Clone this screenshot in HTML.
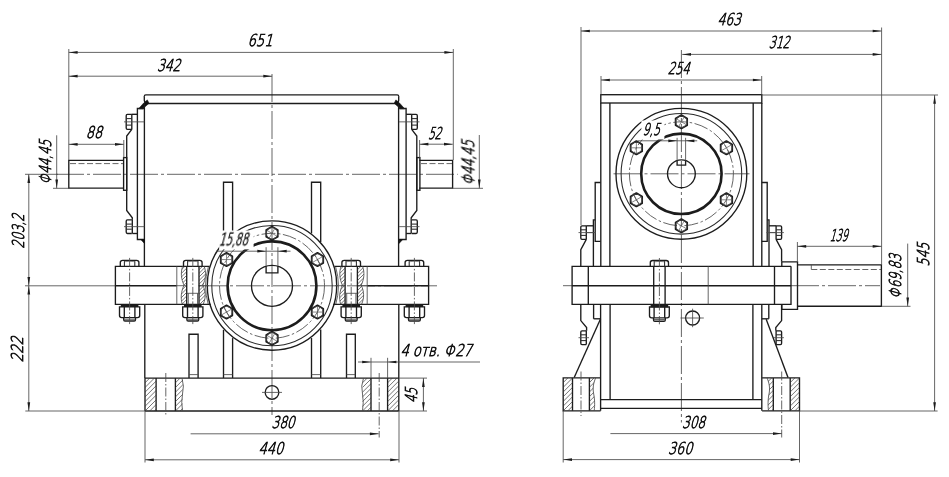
<!DOCTYPE html>
<html><head><meta charset="utf-8"><title>Gearbox drawing</title>
<style>
html,body{margin:0;padding:0;background:#fff}
svg{display:block}
.k{fill:none;stroke:#1c1c1c;stroke-width:1.35}
.kk{fill:none;stroke:#1c1c1c;stroke-width:2.6}
.kb{fill:none;stroke:#1c1c1c;stroke-width:1.7;stroke-linejoin:round}
.n{fill:none;stroke:#4a4a4a;stroke-width:0.85}
.m{fill:none;stroke:#2a2a2a;stroke-width:1.05}
.kw{fill:none;stroke:#1c1c1c;stroke-width:2.2}
.c2{fill:none;stroke:#4a4a4a;stroke-width:0.85;stroke-dasharray:9 2 1.5 2}
.t{fill:none;stroke:#555;stroke-width:0.7}
.c{fill:none;stroke:#4a4a4a;stroke-width:0.85;stroke-dasharray:28 3 3 3}
.cc{fill:none;stroke:#4a4a4a;stroke-width:0.85;stroke-dasharray:14 2.5 2.5 2.5}
.d{fill:none;stroke:#4a4a4a;stroke-width:0.85;stroke-dasharray:6 2.5}
.h{fill:none;stroke:#3a3a3a;stroke-width:0.7}
.a{fill:#1c1c1c;stroke:none}
.wm{fill:#fff;stroke:none}
.w{fill:#111;stroke:#111;stroke-width:0.6}
text{font-family:"DejaVu Sans","Liberation Sans",sans-serif;font-weight:200;font-size:16.4px;fill:#111;stroke:#111;stroke-width:0.8}
</style></head><body>
<svg width="949" height="477" viewBox="0 0 949 477">
<rect x="0" y="0" width="949" height="477" fill="#fff"/>
<path class="n" d="M25 174.3L58 174.3"/>
<path class="c" d="M56 174.3L457.7 174.3"/>
<path class="n" d="M25 285.8L116 285.8"/>
<path class="c" d="M199 285.8L437 285.8"/>
<path class="c" d="M272 74L272 415"/>
<path class="k" d="M145.6 94.8H397.4"/>
<path class="k" d="M144.3 96.2V100.4Q144.6 103.5 147.8 103.5H395.2Q398.4 103.5 398.7 100.4V96.2"/>
<path class="k" d="M144.3 96.4Q144.3 94.8 145.8 94.8M398.7 96.4Q398.7 94.8 397.2 94.8"/>
<path class="w" d="M143.5 103.2L147.3 99.9L149 103.3L142.7 108.8L138.6 108.8Z"/>
<path class="w" d="M399.7 103.2L395.9 99.9L394.2 103.3L400.5 108.8L404.6 108.8Z"/>
<path class="k" d="M144.4 103.5L144.4 266.3"/>
<path class="k" d="M398.6 103.5L398.6 266.3"/>
<path class="k" d="M144.8 304.3L144.8 378"/>
<path class="k" d="M398.8 304.3L398.8 378"/>
<path class="k" d="M144.4 108.5L137.4 108.5L137.4 239.5L144.4 239.5"/>
<path class="w" d="M140.8 239.5L144.4 239.5L144.4 243.4Z"/>
<path class="k" d="M137.4 114.3L131.8 114.3"/>
<path class="k" d="M131.8 129.4L126.7 136.1L126.7 210.4L132.3 217.8L132.3 219.8"/>
<path class="k" d="M132.3 233.5L137.4 233.5"/>
<path class="k" d="M131.8 114.3L131.8 129.4"/>
<path class="k" d="M132.3 219.6L132.3 233.5"/>
<path class="k" d="M131.8 114.3H127.4Q126.2 114.3 126.2 115.7V128Q126.2 129.4 127.4 129.4H131.8"/>
<path class="m" d="M126.2 118.6L131.8 118.6"/>
<path class="m" d="M126.2 125.1L131.8 125.1"/>
<path class="n" d="M124 121.85L144.4 121.85"/>
<path class="k" d="M131.8 219.8H127.4Q126.2 219.8 126.2 221.2V232.1Q126.2 233.5 127.4 233.5H131.8"/>
<path class="m" d="M126.2 224.1L131.8 224.1"/>
<path class="m" d="M126.2 229.2L131.8 229.2"/>
<path class="n" d="M124 226.65L144.4 226.65"/>
<rect class="k" x="123.6" y="157.6" width="3.1" height="32.7"/>
<path class="k" d="M399.1 108.5L406.1 108.5L406.1 239.5L399.1 239.5"/>
<path class="w" d="M402.7 239.5L399.1 239.5L399.1 243.4Z"/>
<path class="k" d="M406.1 114.3L411.7 114.3"/>
<path class="k" d="M411.7 129.4L416.8 136.1L416.8 210.4L411.2 217.8L411.2 219.8"/>
<path class="k" d="M411.2 233.5L406.1 233.5"/>
<path class="k" d="M411.7 114.3L411.7 129.4"/>
<path class="k" d="M411.2 219.6L411.2 233.5"/>
<path class="k" d="M411.7 114.3H416.1Q417.3 114.3 417.3 115.7V128Q417.3 129.4 416.1 129.4H411.7"/>
<path class="m" d="M417.3 118.6L411.7 118.6"/>
<path class="m" d="M417.3 125.1L411.7 125.1"/>
<path class="n" d="M419.5 121.85L399.1 121.85"/>
<path class="k" d="M411.7 219.8H416.1Q417.3 219.8 417.3 221.2V232.1Q417.3 233.5 416.1 233.5H411.7"/>
<path class="m" d="M417.3 224.1L411.7 224.1"/>
<path class="m" d="M417.3 229.2L411.7 229.2"/>
<path class="n" d="M419.5 226.65L399.1 226.65"/>
<rect class="k" x="416.8" y="157.6" width="3.1" height="32.7"/>
<path class="k" d="M123.6 160.4L68.8 160.4L68.8 188.1L123.6 188.1"/>
<path class="d" d="M70 163.6L123 163.6"/>
<path class="k" d="M419.4 160.4L452.6 160.4L452.6 188.1L419.4 188.1"/>
<path class="d" d="M421 163.6L452 163.6"/>
<path class="k" d="M223.5 241.78L223.5 182.2L232.6 182.2L232.6 233.48"/>
<path class="k" d="M223.5 329.82L223.5 378"/>
<path class="k" d="M232.6 338.12L232.6 378"/>
<path class="n" d="M223.5 374.6L232.6 374.6"/>
<path class="k" d="M311.5 233.55L311.5 182.2L320.7 182.2L320.7 242"/>
<path class="k" d="M311.5 338.05L311.5 378"/>
<path class="k" d="M320.7 329.6L320.7 378"/>
<path class="n" d="M311.5 374.6L320.7 374.6"/>
<path class="k" d="M189 378L189 334.2L198.1 334.2L198.1 378"/>
<path class="n" d="M189 374.6L198.1 374.6"/>
<path class="k" d="M346.5 378L346.5 334.2L355.3 334.2L355.3 378"/>
<path class="n" d="M346.5 374.6L355.3 374.6"/>
<circle class="k" cx="272" cy="285.5" r="64.7"/>
<circle class="m" cx="272" cy="285.6" r="60.2"/>
<path class="n" d="M208.33 266.94A66.4 66.4 0 0 0 208.33 304.66"/>
<path class="n" d="M335.67 304.66A66.4 66.4 0 0 0 335.67 266.94"/>
<circle class="cc" cx="272" cy="285.8" r="52.5"/>
<circle class="kk" cx="272" cy="285.8" r="44.4"/>
<circle class="k" cx="272" cy="285.8" r="20.5"/>
<path class="kb" d="M277.8 236.65L272 240L266.2 236.65L266.2 229.95L272 226.6L277.8 229.95Z"/>
<circle class="n" cx="272" cy="233.3" r="5.63"/>
<path class="t" d="M267.36 230.62L276.64 235.98"/>
<path class="t" d="M274.68 228.66L269.32 237.94"/>
<path class="kb" d="M226.53 266.25L220.73 262.9L220.73 256.2L226.53 252.85L232.34 256.2L232.34 262.9Z"/>
<circle class="n" cx="226.53" cy="259.55" r="5.63"/>
<path class="t" d="M226.53 254.19L226.53 264.91"/>
<path class="t" d="M231.89 259.55L221.17 259.55"/>
<path class="kb" d="M220.73 315.4L220.73 308.7L226.53 305.35L232.34 308.7L232.34 315.4L226.53 318.75Z"/>
<circle class="n" cx="226.53" cy="312.05" r="5.63"/>
<path class="t" d="M231.18 309.37L221.89 314.73"/>
<path class="t" d="M229.21 316.69L223.85 307.41"/>
<path class="kb" d="M266.2 334.95L272 331.6L277.8 334.95L277.8 341.65L272 345L266.2 341.65Z"/>
<circle class="n" cx="272" cy="338.3" r="5.63"/>
<path class="t" d="M276.64 340.98L267.36 335.62"/>
<path class="t" d="M269.32 342.94L274.68 333.66"/>
<path class="kb" d="M317.47 305.35L323.27 308.7L323.27 315.4L317.47 318.75L311.66 315.4L311.66 308.7Z"/>
<circle class="n" cx="317.47" cy="312.05" r="5.63"/>
<path class="t" d="M317.47 317.41L317.47 306.69"/>
<path class="t" d="M312.11 312.05L322.83 312.05"/>
<path class="kb" d="M323.27 256.2L323.27 262.9L317.47 266.25L311.66 262.9L311.66 256.2L317.47 252.85Z"/>
<circle class="n" cx="317.47" cy="259.55" r="5.63"/>
<path class="t" d="M312.82 262.23L322.11 256.87"/>
<path class="t" d="M314.79 254.91L320.15 264.19"/>
<path class="k" d="M266.1 266.3L266.1 272.9L277.9 272.9L277.9 266.3"/>
<path class="n" d="M266.1 247.2L266.1 266"/>
<path class="n" d="M277.9 247.2L277.9 266"/>
<path class="n" d="M216 251.2L290.5 251.2"/>
<path class="a" d="M266.1 251.2L257.3 249.85L257.3 252.55Z"/>
<path class="a" d="M277.9 251.2L286.7 249.85L286.7 252.55Z"/>
<path class="k" d="M209.6 266.3L115.4 266.3L115.4 304.3L210.8 304.3"/>
<path class="k" d="M115.4 285.7L176.8 285.7"/>
<path class="n" d="M176.8 266.3L176.8 304.3"/>
<path class="n" d="M176.8 285.7L186.7 285.7"/>
<path class="n" d="M198.5 285.7L209 285.7"/>
<path class="k" d="M120.3 266.2V262.6Q120.3 260.4 122.7 260.4H136.5Q138.9 260.4 138.9 262.6V266.2"/>
<path class="m" d="M124.4 261L124.4 266.2"/>
<path class="m" d="M134.8 261L134.8 266.2"/>
<path class="t" d="M124.4 261.7Q129.6 260.9 134.8 261.7"/>
<path class="kw" d="M120.8 305.9H138.4"/>
<path class="k" d="M119.5 306.8H139.7V315.6Q139.7 317.6 137.5 317.6H121.7Q119.5 317.6 119.5 315.6Z"/>
<path class="k" d="M124.3 306.8L124.3 317.6"/>
<path class="k" d="M134.9 306.8L134.9 317.6"/>
<path class="k" d="M123.7 317.6V319.8Q123.7 321 125 321H134.2Q135.5 321 135.5 319.8V317.6"/>
<path class="n" d="M124.1 319.3L135.1 319.3"/>
<path class="c2" d="M129.6 257.9L129.6 324.1"/>
<path class="k" d="M183.5 266.2V262.6Q183.5 260.4 185.9 260.4H199.7Q202.1 260.4 202.1 262.6V266.2"/>
<path class="m" d="M187.6 261L187.6 266.2"/>
<path class="m" d="M198 261L198 266.2"/>
<path class="t" d="M187.6 261.7Q192.8 260.9 198 261.7"/>
<path class="kw" d="M184 305.9H201.6"/>
<path class="k" d="M182.7 306.8H202.9V315.6Q202.9 317.6 200.7 317.6H184.9Q182.7 317.6 182.7 315.6Z"/>
<path class="k" d="M187.5 306.8L187.5 317.6"/>
<path class="k" d="M198.1 306.8L198.1 317.6"/>
<path class="k" d="M186.9 317.6V319.8Q186.9 321 188.2 321H197.4Q198.7 321 198.7 319.8V317.6"/>
<path class="n" d="M187.3 319.3L198.3 319.3"/>
<path class="c2" d="M192.8 257.9L192.8 324.1"/>
<path class="k" d="M186.7 266.2L186.7 304.2"/>
<path class="k" d="M199 266.2L199 304.2"/>
<path class="n" d="M186.7 293.3L199 293.3"/>
<path class="n" d="M188.3 293.3L188.3 304.2"/>
<path class="n" d="M197.5 293.3L197.5 304.2"/>
<path class="n" d="M182.6 266.2L181.97 268.57L181.56 270.95L181.39 273.32L181.45 275.7L181.74 278.07L182.26 280.45L183.02 282.82L184 285.2L183.01 287.57L182.24 289.95L181.68 292.32L181.35 294.7L181.23 297.07L181.34 299.45L181.66 301.82L182.2 304.2"/>
<path class="n" d="M204.2 266.2L204.88 268.57L205.31 270.95L205.5 273.32L205.45 275.7L205.15 278.07L204.61 280.45L203.83 282.82L202.8 285.2L203.81 287.57L204.55 289.95L205.01 292.32L205.2 294.7L205.11 297.07L204.75 299.45L204.11 301.82L203.2 304.2"/>
<clipPath id="b21a"><path d="M182.6 266.2L181.97 268.57L181.56 270.95L181.39 273.32L181.45 275.7L181.74 278.07L182.26 280.45L183.02 282.82L184 285.2L186.7 285.2L186.7 266.2Z"/></clipPath>
<path class="h" clip-path="url(#b21a)" d="M162.39 285.2L181.39 266.2M165.99 285.2L184.99 266.2M169.59 285.2L188.59 266.2M173.19 285.2L192.19 266.2M176.79 285.2L195.79 266.2M180.39 285.2L199.39 266.2M183.99 285.2L202.99 266.2M187.59 285.2L206.59 266.2M191.19 285.2L210.19 266.2M194.79 285.2L213.79 266.2M198.39 285.2L217.39 266.2M201.99 285.2L220.99 266.2M205.59 285.2L224.59 266.2"/>
<clipPath id="b21b"><path d="M184 285.2L183.01 287.57L182.24 289.95L181.68 292.32L181.35 294.7L181.23 297.07L181.34 299.45L181.66 301.82L182.2 304.2L186.7 304.2L186.7 285.2Z"/></clipPath>
<path class="h" clip-path="url(#b21b)" d="M164.03 304.2L183.03 285.2M167.63 304.2L186.63 285.2M171.23 304.2L190.23 285.2M174.83 304.2L193.83 285.2M178.43 304.2L197.43 285.2M182.03 304.2L201.03 285.2M185.63 304.2L204.63 285.2M189.23 304.2L208.23 285.2M192.83 304.2L211.83 285.2M196.43 304.2L215.43 285.2M200.03 304.2L219.03 285.2M203.63 304.2L222.63 285.2"/>
<clipPath id="b21c"><path d="M204.2 266.2L204.88 268.57L205.31 270.95L205.5 273.32L205.45 275.7L205.15 278.07L204.61 280.45L203.83 282.82L202.8 285.2L199 285.2L199 266.2Z"/></clipPath>
<path class="h" clip-path="url(#b21c)" d="M180 285.2L199 266.2M183.6 285.2L202.6 266.2M187.2 285.2L206.2 266.2M190.8 285.2L209.8 266.2M194.4 285.2L213.4 266.2M198 285.2L217 266.2M201.6 285.2L220.6 266.2M205.2 285.2L224.2 266.2M208.8 285.2L227.8 266.2M212.4 285.2L231.4 266.2M216 285.2L235 266.2M219.6 285.2L238.6 266.2M223.2 285.2L242.2 266.2"/>
<clipPath id="b21d"><path d="M202.8 285.2L203.81 287.57L204.55 289.95L205.01 292.32L205.2 294.7L205.11 297.07L204.75 299.45L204.11 301.82L203.2 304.2L199 304.2L199 285.2Z"/></clipPath>
<path class="h" clip-path="url(#b21d)" d="M181.8 304.2L200.8 285.2M185.4 304.2L204.4 285.2M189 304.2L208 285.2M192.6 304.2L211.6 285.2M196.2 304.2L215.2 285.2M199.8 304.2L218.8 285.2M203.4 304.2L222.4 285.2M207 304.2L226 285.2M210.6 304.2L229.6 285.2M214.2 304.2L233.2 285.2M217.8 304.2L236.8 285.2M221.4 304.2L240.4 285.2"/>
<path class="k" d="M334.4 266.3L428.6 266.3L428.6 304.3L333.2 304.3"/>
<path class="k" d="M428.6 285.7L367.2 285.7"/>
<path class="n" d="M367.2 266.3L367.2 304.3"/>
<path class="n" d="M367.2 285.7L357.3 285.7"/>
<path class="n" d="M345.5 285.7L335 285.7"/>
<path class="k" d="M405.1 266.2V262.6Q405.1 260.4 407.5 260.4H421.3Q423.7 260.4 423.7 262.6V266.2"/>
<path class="m" d="M409.2 261L409.2 266.2"/>
<path class="m" d="M419.6 261L419.6 266.2"/>
<path class="t" d="M409.2 261.7Q414.4 260.9 419.6 261.7"/>
<path class="kw" d="M405.6 305.9H423.2"/>
<path class="k" d="M404.3 306.8H424.5V315.6Q424.5 317.6 422.3 317.6H406.5Q404.3 317.6 404.3 315.6Z"/>
<path class="k" d="M409.1 306.8L409.1 317.6"/>
<path class="k" d="M419.7 306.8L419.7 317.6"/>
<path class="k" d="M408.5 317.6V319.8Q408.5 321 409.8 321H419Q420.3 321 420.3 319.8V317.6"/>
<path class="n" d="M408.9 319.3L419.9 319.3"/>
<path class="c2" d="M414.4 257.9L414.4 324.1"/>
<path class="k" d="M341.9 266.2V262.6Q341.9 260.4 344.3 260.4H358.1Q360.5 260.4 360.5 262.6V266.2"/>
<path class="m" d="M346 261L346 266.2"/>
<path class="m" d="M356.4 261L356.4 266.2"/>
<path class="t" d="M346 261.7Q351.2 260.9 356.4 261.7"/>
<path class="kw" d="M342.4 305.9H360"/>
<path class="k" d="M341.1 306.8H361.3V315.6Q361.3 317.6 359.1 317.6H343.3Q341.1 317.6 341.1 315.6Z"/>
<path class="k" d="M345.9 306.8L345.9 317.6"/>
<path class="k" d="M356.5 306.8L356.5 317.6"/>
<path class="k" d="M345.3 317.6V319.8Q345.3 321 346.6 321H355.8Q357.1 321 357.1 319.8V317.6"/>
<path class="n" d="M345.7 319.3L356.7 319.3"/>
<path class="c2" d="M351.2 257.9L351.2 324.1"/>
<path class="k" d="M345.1 266.2L345.1 304.2"/>
<path class="k" d="M357.4 266.2L357.4 304.2"/>
<path class="n" d="M345.1 293.3L357.4 293.3"/>
<path class="n" d="M346.7 293.3L346.7 304.2"/>
<path class="n" d="M355.9 293.3L355.9 304.2"/>
<path class="n" d="M341 266.2L340.37 268.57L339.96 270.95L339.79 273.32L339.85 275.7L340.14 278.07L340.66 280.45L341.42 282.82L342.4 285.2L341.41 287.57L340.64 289.95L340.08 292.32L339.75 294.7L339.63 297.07L339.74 299.45L340.06 301.82L340.6 304.2"/>
<path class="n" d="M362.6 266.2L363.28 268.57L363.71 270.95L363.9 273.32L363.85 275.7L363.55 278.07L363.01 280.45L362.23 282.82L361.2 285.2L362.21 287.57L362.95 289.95L363.41 292.32L363.6 294.7L363.51 297.07L363.15 299.45L362.51 301.82L361.6 304.2"/>
<clipPath id="b01a"><path d="M341 266.2L340.37 268.57L339.96 270.95L339.79 273.32L339.85 275.7L340.14 278.07L340.66 280.45L341.42 282.82L342.4 285.2L345.1 285.2L345.1 266.2Z"/></clipPath>
<path class="h" clip-path="url(#b01a)" d="M320.79 285.2L339.79 266.2M324.39 285.2L343.39 266.2M327.99 285.2L346.99 266.2M331.59 285.2L350.59 266.2M335.19 285.2L354.19 266.2M338.79 285.2L357.79 266.2M342.39 285.2L361.39 266.2M345.99 285.2L364.99 266.2M349.59 285.2L368.59 266.2M353.19 285.2L372.19 266.2M356.79 285.2L375.79 266.2M360.39 285.2L379.39 266.2M363.99 285.2L382.99 266.2"/>
<clipPath id="b01b"><path d="M342.4 285.2L341.41 287.57L340.64 289.95L340.08 292.32L339.75 294.7L339.63 297.07L339.74 299.45L340.06 301.82L340.6 304.2L345.1 304.2L345.1 285.2Z"/></clipPath>
<path class="h" clip-path="url(#b01b)" d="M322.43 304.2L341.43 285.2M326.03 304.2L345.03 285.2M329.63 304.2L348.63 285.2M333.23 304.2L352.23 285.2M336.83 304.2L355.83 285.2M340.43 304.2L359.43 285.2M344.03 304.2L363.03 285.2M347.63 304.2L366.63 285.2M351.23 304.2L370.23 285.2M354.83 304.2L373.83 285.2M358.43 304.2L377.43 285.2M362.03 304.2L381.03 285.2"/>
<clipPath id="b01c"><path d="M362.6 266.2L363.28 268.57L363.71 270.95L363.9 273.32L363.85 275.7L363.55 278.07L363.01 280.45L362.23 282.82L361.2 285.2L357.4 285.2L357.4 266.2Z"/></clipPath>
<path class="h" clip-path="url(#b01c)" d="M338.4 285.2L357.4 266.2M342 285.2L361 266.2M345.6 285.2L364.6 266.2M349.2 285.2L368.2 266.2M352.8 285.2L371.8 266.2M356.4 285.2L375.4 266.2M360 285.2L379 266.2M363.6 285.2L382.6 266.2M367.2 285.2L386.2 266.2M370.8 285.2L389.8 266.2M374.4 285.2L393.4 266.2M378 285.2L397 266.2M381.6 285.2L400.6 266.2"/>
<clipPath id="b01d"><path d="M361.2 285.2L362.21 287.57L362.95 289.95L363.41 292.32L363.6 294.7L363.51 297.07L363.15 299.45L362.51 301.82L361.6 304.2L357.4 304.2L357.4 285.2Z"/></clipPath>
<path class="h" clip-path="url(#b01d)" d="M340.2 304.2L359.2 285.2M343.8 304.2L362.8 285.2M347.4 304.2L366.4 285.2M351 304.2L370 285.2M354.6 304.2L373.6 285.2M358.2 304.2L377.2 285.2M361.8 304.2L380.8 285.2M365.4 304.2L384.4 285.2M369 304.2L388 285.2M372.6 304.2L391.6 285.2M376.2 304.2L395.2 285.2M379.8 304.2L398.8 285.2"/>
<path class="k" d="M145 378.1L398.8 378.1"/>
<path class="k" d="M145 411L398.8 411"/>
<path class="k" d="M145 378.1L145 411"/>
<path class="k" d="M398.8 378.1L398.8 411"/>
<path class="k" d="M156.1 378.1L156.1 411"/>
<path class="k" d="M175.4 378.1L175.4 411"/>
<path class="k" d="M387.6 378.1L387.6 411"/>
<path class="k" d="M371 378.1L371 411"/>
<path class="n" d="M182 378.1Q184.5 386 182.5 394Q181 402 182.5 411"/>
<path class="n" d="M363.5 378.1Q360.5 386 362.5 394Q364 402 362.5 411"/>
<clipPath id="hb1"><path d="M145 378.1L156.1 378.1L156.1 411L145 411Z"/></clipPath>
<path class="h" clip-path="url(#hb1)" d="M112.1 411L145 378.1M116.8 411L149.7 378.1M121.5 411L154.4 378.1M126.2 411L159.1 378.1M130.9 411L163.8 378.1M135.6 411L168.5 378.1M140.3 411L173.2 378.1M145 411L177.9 378.1M149.7 411L182.6 378.1M154.4 411L187.3 378.1M159.1 411L192 378.1M163.8 411L196.7 378.1M168.5 411L201.4 378.1M173.2 411L206.1 378.1M177.9 411L210.8 378.1M182.6 411L215.5 378.1M187.3 411L220.2 378.1"/>
<clipPath id="hb2"><path d="M175.4 378.1L183 378.1L182.5 394L182.5 411L175.4 411Z"/></clipPath>
<path class="h" clip-path="url(#hb2)" d="M142.5 411L175.4 378.1M147.2 411L180.1 378.1M151.9 411L184.8 378.1M156.6 411L189.5 378.1M161.3 411L194.2 378.1M166 411L198.9 378.1M170.7 411L203.6 378.1M175.4 411L208.3 378.1M180.1 411L213 378.1M184.8 411L217.7 378.1M189.5 411L222.4 378.1M194.2 411L227.1 378.1M198.9 411L231.8 378.1M203.6 411L236.5 378.1M208.3 411L241.2 378.1M213 411L245.9 378.1"/>
<clipPath id="hb3"><path d="M387.6 378.1L398.8 378.1L398.8 411L387.6 411Z"/></clipPath>
<path class="h" clip-path="url(#hb3)" d="M354.7 411L387.6 378.1M359.4 411L392.3 378.1M364.1 411L397 378.1M368.8 411L401.7 378.1M373.5 411L406.4 378.1M378.2 411L411.1 378.1M382.9 411L415.8 378.1M387.6 411L420.5 378.1M392.3 411L425.2 378.1M397 411L429.9 378.1M401.7 411L434.6 378.1M406.4 411L439.3 378.1M411.1 411L444 378.1M415.8 411L448.7 378.1M420.5 411L453.4 378.1M425.2 411L458.1 378.1M429.9 411L462.8 378.1"/>
<clipPath id="hb4"><path d="M371 378.1L363 378.1L362.5 394L362.5 411L371 411Z"/></clipPath>
<path class="h" clip-path="url(#hb4)" d="M329.6 411L362.5 378.1M334.3 411L367.2 378.1M339 411L371.9 378.1M343.7 411L376.6 378.1M348.4 411L381.3 378.1M353.1 411L386 378.1M357.8 411L390.7 378.1M362.5 411L395.4 378.1M367.2 411L400.1 378.1M371.9 411L404.8 378.1M376.6 411L409.5 378.1M381.3 411L414.2 378.1M386 411L418.9 378.1M390.7 411L423.6 378.1M395.4 411L428.3 378.1M400.1 411L433 378.1"/>
<path class="c2" d="M165.8 373L165.8 416"/>
<path class="c2" d="M379.2 373L379.2 437.5"/>
<circle class="k" cx="272" cy="392.4" r="6.8"/>
<path class="n" d="M262 392.4L282 392.4"/>
<path class="n" d="M68.8 49L68.8 160"/>
<path class="n" d="M453.3 49L453.3 160"/>
<path class="n" d="M68.8 52.4L453.2 52.4"/>
<path class="a" d="M68.8 52.4L77.6 51.05L77.6 53.75Z"/>
<path class="a" d="M453.2 52.4L444.4 51.05L444.4 53.75Z"/>
<path class="n" d="M68.8 76.2L272.1 76.2"/>
<path class="a" d="M68.8 76.2L77.6 74.85L77.6 77.55Z"/>
<path class="a" d="M272.1 76.2L263.3 74.85L263.3 77.55Z"/>
<path class="n" d="M68.8 144.3L123.8 144.3"/>
<path class="a" d="M68.8 144.3L77.6 142.95L77.6 145.65Z"/>
<path class="a" d="M123.8 144.3L115 142.95L115 145.65Z"/>
<path class="n" d="M123.8 140L123.8 157.6"/>
<path class="n" d="M419.6 144.2L452.8 144.2"/>
<path class="a" d="M419.6 144.2L428.4 142.85L428.4 145.55Z"/>
<path class="a" d="M452.8 144.2L444 142.85L444 145.55Z"/>
<path class="n" d="M419.6 140L419.6 157.6"/>
<path class="n" d="M56.7 135.3L56.7 188.3"/>
<path class="a" d="M56.7 188.3L55.35 179.5L58.05 179.5Z"/>
<path class="n" d="M53 188.3L69 188.3"/>
<path class="n" d="M479.3 135L479.3 188.3"/>
<path class="a" d="M479.3 188.3L477.95 179.5L480.65 179.5Z"/>
<path class="n" d="M452 188.3L483 188.3"/>
<path class="n" d="M28.8 174.3L28.8 285.8"/>
<path class="a" d="M28.8 174.3L27.45 183.1L30.15 183.1Z"/>
<path class="a" d="M28.8 285.8L27.45 277L30.15 277Z"/>
<path class="n" d="M28.8 285.8L28.8 411"/>
<path class="a" d="M28.8 285.8L27.45 294.6L30.15 294.6Z"/>
<path class="a" d="M28.8 411L27.45 402.2L30.15 402.2Z"/>
<path class="n" d="M25.3 411L145 411"/>
<path class="n" d="M190.6 433.8L378.7 433.8"/>
<path class="a" d="M378.7 433.8L369.9 432.45L369.9 435.15Z"/>
<path class="n" d="M145 411L145 462.5"/>
<path class="n" d="M399 411L399 462.5"/>
<path class="n" d="M145 459.8L399 459.8"/>
<path class="a" d="M145 459.8L153.8 458.45L153.8 461.15Z"/>
<path class="a" d="M399 459.8L390.2 458.45L390.2 461.15Z"/>
<path class="n" d="M358 362L480 362"/>
<path class="a" d="M371 362L362.2 360.65L362.2 363.35Z"/>
<path class="a" d="M387.6 362L396.4 360.65L396.4 363.35Z"/>
<path class="n" d="M371 357.8L371 378.1"/>
<path class="n" d="M387.6 357.8L387.6 378.1"/>
<path class="n" d="M398.8 378.1L427 378.1"/>
<path class="n" d="M398.8 411L427 411"/>
<path class="n" d="M423.4 378.1L423.4 411"/>
<path class="a" d="M423.4 378.1L422.05 386.9L424.75 386.9Z"/>
<path class="a" d="M423.4 411L422.05 402.2L424.75 402.2Z"/>
<path class="c" d="M681.4 50L681.4 422.5"/>
<path class="c" d="M613.5 173.8L749.5 173.8"/>
<path class="n" d="M563 285.7L572 285.7"/>
<path class="c" d="M791 285.7L880 285.7"/>
<rect class="k" x="600.8" y="94.7" width="161" height="8.3"/>
<path class="k" d="M600.8 103L600.8 266.3"/>
<path class="k" d="M761.8 103L761.8 266.3"/>
<path class="k" d="M609.9 103L609.9 266.3"/>
<path class="k" d="M753.2 103L753.2 266.3"/>
<path class="k" d="M600.6 304.3L600.6 410.7"/>
<path class="k" d="M761.8 304.3L761.8 410.7"/>
<path class="k" d="M610.1 304.3L610.1 399.6"/>
<path class="k" d="M752.9 304.3L752.9 399.6"/>
<path class="k" d="M600.6 399.6L761.8 399.6"/>
<path class="k" d="M600.6 408.4L761.8 408.4"/>
<circle class="k" cx="681.4" cy="173.8" r="65.4"/>
<circle class="m" cx="681.4" cy="173.8" r="60.3"/>
<circle class="cc" cx="681.4" cy="173.8" r="52"/>
<circle class="kk" cx="681.4" cy="173.8" r="40.2"/>
<circle class="k" cx="681.4" cy="173.8" r="13.9"/>
<path class="kb" d="M687.2 125.15L681.4 128.5L675.6 125.15L675.6 118.45L681.4 115.1L687.2 118.45Z"/>
<circle class="n" cx="681.4" cy="121.8" r="5.63"/>
<path class="t" d="M676.76 119.12L686.04 124.48"/>
<path class="t" d="M684.08 117.16L678.72 126.44"/>
<path class="kb" d="M636.37 154.5L630.56 151.15L630.56 144.45L636.37 141.1L642.17 144.45L642.17 151.15Z"/>
<circle class="n" cx="636.37" cy="147.8" r="5.63"/>
<path class="t" d="M636.37 142.44L636.37 153.16"/>
<path class="t" d="M641.73 147.8L631.01 147.8"/>
<path class="kb" d="M630.56 203.15L630.56 196.45L636.37 193.1L642.17 196.45L642.17 203.15L636.37 206.5Z"/>
<circle class="n" cx="636.37" cy="199.8" r="5.63"/>
<path class="t" d="M641.01 197.12L631.72 202.48"/>
<path class="t" d="M639.05 204.44L633.69 195.16"/>
<path class="kb" d="M675.6 222.45L681.4 219.1L687.2 222.45L687.2 229.15L681.4 232.5L675.6 229.15Z"/>
<circle class="n" cx="681.4" cy="225.8" r="5.63"/>
<path class="t" d="M686.04 228.48L676.76 223.12"/>
<path class="t" d="M678.72 230.44L684.08 221.16"/>
<path class="kb" d="M726.43 193.1L732.24 196.45L732.24 203.15L726.43 206.5L720.63 203.15L720.63 196.45Z"/>
<circle class="n" cx="726.43" cy="199.8" r="5.63"/>
<path class="t" d="M726.43 205.16L726.43 194.44"/>
<path class="t" d="M721.07 199.8L731.79 199.8"/>
<path class="kb" d="M732.24 144.45L732.24 151.15L726.43 154.5L720.63 151.15L720.63 144.45L726.43 141.1Z"/>
<circle class="n" cx="726.43" cy="147.8" r="5.63"/>
<path class="t" d="M721.79 150.48L731.08 145.12"/>
<path class="t" d="M723.75 143.16L729.11 152.44"/>
<path class="k" d="M677.1 160.6L677.1 165.1L685.6 165.1L685.6 160.6"/>
<path class="n" d="M677.1 137.8L677.1 160.5"/>
<path class="n" d="M685.6 137.8L685.6 160.5"/>
<path class="n" d="M637.7 140.8L697.2 140.8"/>
<path class="a" d="M677.1 140.8L668.3 139.45L668.3 142.15Z"/>
<path class="a" d="M685.6 140.8L694.4 139.45L694.4 142.15Z"/>
<path class="k" d="M791 266.3L572.1 266.3L572.1 304.4L791 304.4L791 266.3"/>
<path class="k" d="M572.1 285.7L791 285.7"/>
<path class="k" d="M588.3 266.3L588.3 304.4"/>
<path class="n" d="M708.2 266.3L708.2 304.4"/>
<path class="k" d="M774.5 266.3L774.5 304.4"/>
<path class="k" d="M650.3 266.3V262.7Q650.3 260.5 652.7 260.5H666.1Q668.5 260.5 668.5 262.7V266.3"/>
<path class="m" d="M654.2 261.1L654.2 266.3"/>
<path class="m" d="M664.6 261.1L664.6 266.3"/>
<path class="t" d="M654.2 261.8Q659.4 261 664.6 261.8"/>
<path class="kw" d="M650.6 306.1H668.2"/>
<path class="k" d="M649.5 307H669.3V315.8Q669.3 317.8 667.1 317.8H651.7Q649.5 317.8 649.5 315.8Z"/>
<path class="k" d="M654.1 307L654.1 317.8"/>
<path class="k" d="M664.7 307L664.7 317.8"/>
<path class="k" d="M653.5 317.8V320Q653.5 321.2 654.8 321.2H664Q665.3 321.2 665.3 320V317.8"/>
<path class="n" d="M653.9 319.5L664.9 319.5"/>
<path class="c2" d="M659.4 258L659.4 324.3"/>
<path class="k" d="M653.7 266.3L653.7 304.4"/>
<path class="k" d="M665.1 266.3L665.1 304.4"/>
<circle class="k" cx="692.6" cy="318" r="7"/>
<path class="n" d="M680.5 318L703.8 318"/>
<path class="n" d="M692.6 308.7L692.6 327.2"/>
<path class="k" d="M600.6 182.5L595.2 182.5L595.2 241.3L600.6 241.3"/>
<path class="k" d="M595.2 219.8L593.4 219.8L593.4 266.1"/>
<path class="k" d="M586.3 225.8H582Q580.8 225.8 580.8 227.1V238.1Q580.8 239.4 582 239.4H586.3"/>
<path class="k" d="M586.3 225.8L586.3 239.4"/>
<path class="m" d="M580.8 229.8L586.3 229.8"/>
<path class="m" d="M580.8 235.4L586.3 235.4"/>
<path class="n" d="M578.5 232.6L596 232.6"/>
<path class="k" d="M586.3 330.8H582Q580.8 330.8 580.8 332.1V343.3Q580.8 344.6 582 344.6H586.3"/>
<path class="k" d="M586.3 330.8L586.3 344.6"/>
<path class="m" d="M580.8 334.8L586.3 334.8"/>
<path class="m" d="M580.8 340.6L586.3 340.6"/>
<path class="n" d="M578.5 337.7L589 337.7"/>
<path class="k" d="M586.3 225.8L593.4 225.8"/>
<path class="n" d="M586.3 232.6L593.4 232.6"/>
<path class="k" d="M586.3 239.4L580.8 249.6L580.8 266.1"/>
<path class="k" d="M580.8 304.4L580.8 320.6L586.6 327.6L586.6 330.8"/>
<path class="k" d="M593.6 304.4L593.6 318.8"/>
<path class="k" d="M593.6 318.8L600.6 318.8"/>
<path class="k" d="M761.8 182.5L767.2 182.5L767.2 241.3L761.8 241.3"/>
<path class="k" d="M767.2 219.8L769 219.8L769 266.1"/>
<path class="k" d="M776.1 225.8H780.4Q781.6 225.8 781.6 227.1V238.1Q781.6 239.4 780.4 239.4H776.1"/>
<path class="k" d="M776.1 225.8L776.1 239.4"/>
<path class="m" d="M781.6 229.8L776.1 229.8"/>
<path class="m" d="M781.6 235.4L776.1 235.4"/>
<path class="n" d="M783.9 232.6L766.4 232.6"/>
<path class="k" d="M776.1 330.8H780.4Q781.6 330.8 781.6 332.1V343.3Q781.6 344.6 780.4 344.6H776.1"/>
<path class="k" d="M776.1 330.8L776.1 344.6"/>
<path class="m" d="M781.6 334.8L776.1 334.8"/>
<path class="m" d="M781.6 340.6L776.1 340.6"/>
<path class="n" d="M783.9 337.7L773.4 337.7"/>
<path class="k" d="M776.1 225.8L769 225.8"/>
<path class="n" d="M776.1 232.6L769 232.6"/>
<path class="k" d="M776.1 239.4L781.6 249.6L781.6 261.8"/>
<path class="k" d="M781.6 304.4L781.6 320.6L775.8 327.6L775.8 330.8"/>
<path class="k" d="M768.8 304.4L768.8 318.8"/>
<path class="k" d="M768.8 318.8L761.8 318.8"/>
<path class="k" d="M600.6 318.8L574.2 377.5"/>
<path class="k" d="M766.2 319.3L788 377.5"/>
<path class="k" d="M781.8 261.8L797.5 261.8L797.5 309.3L781.8 309.3"/>
<path class="k" d="M781.8 261.8L781.8 266.3"/>
<path class="k" d="M781.8 304.4L781.8 309.3"/>
<path class="k" d="M797.5 264.8L881.4 264.8L881.4 306.2L797.5 306.2"/>
<path class="n" d="M811.3 264.8L811.3 269.5"/>
<path class="d" d="M811.3 269.5L881 269.5"/>
<path class="k" d="M600.6 377.9L563.2 377.9L563.2 410.8L600.6 410.8"/>
<path class="k" d="M572.5 377.9L572.5 410.8"/>
<path class="k" d="M589.4 377.9L589.4 410.8"/>
<clipPath id="hf2a"><path d="M563.2 377.9L572.5 377.9L572.5 410.8L563.2 410.8Z"/></clipPath>
<path class="h" clip-path="url(#hf2a)" d="M530.3 410.8L563.2 377.9M535 410.8L567.9 377.9M539.7 410.8L572.6 377.9M544.4 410.8L577.3 377.9M549.1 410.8L582 377.9M553.8 410.8L586.7 377.9M558.5 410.8L591.4 377.9M563.2 410.8L596.1 377.9M567.9 410.8L600.8 377.9M572.6 410.8L605.5 377.9M577.3 410.8L610.2 377.9M582 410.8L614.9 377.9M586.7 410.8L619.6 377.9M591.4 410.8L624.3 377.9M596.1 410.8L629 377.9M600.8 410.8L633.7 377.9"/>
<path class="n" d="M595.7 377.9L594.86 379.92L594.19 381.94L593.68 383.96L593.35 385.98L593.18 387.99L593.19 389.99L593.36 392L593.7 394L594.06 396.01L594.33 398.05L594.52 400.11L594.62 402.2L594.65 404.31L594.58 406.45L594.43 408.61L594.2 410.8"/>
<clipPath id="hf2b"><path d="M595.7 377.9L594.86 379.92L594.19 381.94L593.68 383.96L593.35 385.98L593.18 387.99L593.19 389.99L593.36 392L593.7 394L594.06 396.01L594.33 398.05L594.52 400.11L594.62 402.2L594.65 404.31L594.58 406.45L594.43 408.61L594.2 410.8L589.4 410.8L589.4 377.9Z"/></clipPath>
<path class="h" clip-path="url(#hf2b)" d="M556.5 410.8L589.4 377.9M561.2 410.8L594.1 377.9M565.9 410.8L598.8 377.9M570.6 410.8L603.5 377.9M575.3 410.8L608.2 377.9M580 410.8L612.9 377.9M584.7 410.8L617.6 377.9M589.4 410.8L622.3 377.9M594.1 410.8L627 377.9M598.8 410.8L631.7 377.9M603.5 410.8L636.4 377.9M608.2 410.8L641.1 377.9M612.9 410.8L645.8 377.9M617.6 410.8L650.5 377.9M622.3 410.8L655.2 377.9M627 410.8L659.9 377.9"/>
<path class="c2" d="M581 371.5L581 416"/>
<path class="k" d="M762.1 377.9L799.5 377.9L799.5 410.8L762.1 410.8"/>
<path class="k" d="M790.2 377.9L790.2 410.8"/>
<path class="k" d="M773.3 377.9L773.3 410.8"/>
<clipPath id="hf0a"><path d="M799.5 377.9L790.2 377.9L790.2 410.8L799.5 410.8Z"/></clipPath>
<path class="h" clip-path="url(#hf0a)" d="M757.3 410.8L790.2 377.9M762 410.8L794.9 377.9M766.7 410.8L799.6 377.9M771.4 410.8L804.3 377.9M776.1 410.8L809 377.9M780.8 410.8L813.7 377.9M785.5 410.8L818.4 377.9M790.2 410.8L823.1 377.9M794.9 410.8L827.8 377.9M799.6 410.8L832.5 377.9M804.3 410.8L837.2 377.9M809 410.8L841.9 377.9M813.7 410.8L846.6 377.9M818.4 410.8L851.3 377.9M823.1 410.8L856 377.9M827.8 410.8L860.7 377.9"/>
<path class="n" d="M767 377.9L767.84 379.92L768.51 381.94L769.02 383.96L769.35 385.98L769.52 387.99L769.51 389.99L769.34 392L769 394L768.64 396.01L768.37 398.05L768.18 400.11L768.08 402.2L768.05 404.31L768.12 406.45L768.27 408.61L768.5 410.8"/>
<clipPath id="hf0b"><path d="M767 377.9L767.84 379.92L768.51 381.94L769.02 383.96L769.35 385.98L769.52 387.99L769.51 389.99L769.34 392L769 394L768.64 396.01L768.37 398.05L768.18 400.11L768.08 402.2L768.05 404.31L768.12 406.45L768.27 408.61L768.5 410.8L773.3 410.8L773.3 377.9Z"/></clipPath>
<path class="h" clip-path="url(#hf0b)" d="M734.1 410.8L767 377.9M738.8 410.8L771.7 377.9M743.5 410.8L776.4 377.9M748.2 410.8L781.1 377.9M752.9 410.8L785.8 377.9M757.6 410.8L790.5 377.9M762.3 410.8L795.2 377.9M767 410.8L799.9 377.9M771.7 410.8L804.6 377.9M776.4 410.8L809.3 377.9M781.1 410.8L814 377.9M785.8 410.8L818.7 377.9M790.5 410.8L823.4 377.9M795.2 410.8L828.1 377.9M799.9 410.8L832.8 377.9M804.6 410.8L837.5 377.9"/>
<path class="c2" d="M781.7 371.5L781.7 437.5"/>
<path class="n" d="M581 27L581 225"/>
<path class="n" d="M881.6 27.5L881.6 265"/>
<path class="n" d="M581 31L881.5 31"/>
<path class="a" d="M581 31L589.8 29.65L589.8 32.35Z"/>
<path class="a" d="M881.5 31L872.7 29.65L872.7 32.35Z"/>
<path class="n" d="M682.2 54.4L881.5 54.4"/>
<path class="a" d="M682.2 54.4L691 53.05L691 55.75Z"/>
<path class="a" d="M881.5 54.4L872.7 53.05L872.7 55.75Z"/>
<path class="n" d="M601 76L601 94.7"/>
<path class="n" d="M761.7 76L761.7 94.7"/>
<path class="n" d="M601 80L761.7 80"/>
<path class="a" d="M601 80L609.8 78.65L609.8 81.35Z"/>
<path class="a" d="M761.7 80L752.9 78.65L752.9 81.35Z"/>
<path class="n" d="M761.8 95L938 95"/>
<path class="n" d="M799.5 411L937.6 411"/>
<path class="n" d="M934.6 95L934.6 411"/>
<path class="a" d="M934.6 95L933.25 103.8L935.95 103.8Z"/>
<path class="a" d="M934.6 411L933.25 402.2L935.95 402.2Z"/>
<path class="n" d="M797.4 242L797.4 261.8"/>
<path class="n" d="M797.4 246.3L881.5 246.3"/>
<path class="a" d="M797.4 246.3L806.2 244.95L806.2 247.65Z"/>
<path class="a" d="M881.5 246.3L872.7 244.95L872.7 247.65Z"/>
<path class="n" d="M907.7 243.6L907.7 306.3"/>
<path class="a" d="M907.7 306.3L906.35 297.5L909.05 297.5Z"/>
<path class="n" d="M881.4 306.3L910.5 306.3"/>
<path class="n" d="M563.2 410.7L563.2 462.5"/>
<path class="n" d="M799.5 410.7L799.5 462.5"/>
<path class="n" d="M563.2 459.6L799.5 459.6"/>
<path class="a" d="M563.2 459.6L572 458.25L572 460.95Z"/>
<path class="a" d="M799.5 459.6L790.7 458.25L790.7 460.95Z"/>
<path class="n" d="M610.4 433.6L781.8 433.6"/>
<path class="a" d="M781.8 433.6L773 432.25L773 434.95Z"/>
<rect class="wm" x="219.2" y="230.5" width="34.4" height="18.9"/>
<rect class="wm" x="641.4" y="120.5" width="23" height="19"/>
<g opacity="0.999">
<text id="t651" x="0" y="0" text-anchor="middle" transform="translate(260 46.1) skewX(-15)" textLength="24.8" lengthAdjust="spacingAndGlyphs">651</text>
<text id="t342" x="0" y="0" text-anchor="middle" transform="translate(168.7 70.5) skewX(-15)" textLength="23.4" lengthAdjust="spacingAndGlyphs">342</text>
<text id="t88" x="0" y="0" text-anchor="middle" transform="translate(93.9 138.4) skewX(-15)" textLength="16.2" lengthAdjust="spacingAndGlyphs">88</text>
<text id="t52" x="0" y="0" text-anchor="middle" transform="translate(434.6 138.5) skewX(-15)" textLength="13.2" lengthAdjust="spacingAndGlyphs">52</text>
<text id="tphiL" x="0" y="0" text-anchor="middle" transform="translate(51.3 162.1) rotate(-90) skewX(-15)" textLength="44.2" lengthAdjust="spacingAndGlyphs">Φ44,45</text>
<text id="tphiR" x="0" y="0" text-anchor="middle" transform="translate(473.8 162.7) rotate(-90) skewX(-15)" textLength="44.6" lengthAdjust="spacingAndGlyphs">Φ44,45</text>
<text id="t2032" x="0" y="0" text-anchor="middle" transform="translate(23.6 231.2) rotate(-90) skewX(-15)" textLength="34.4" lengthAdjust="spacingAndGlyphs">203,2</text>
<text id="t222" x="0" y="0" text-anchor="middle" transform="translate(23.3 349.5) rotate(-90) skewX(-15)" textLength="25.4" lengthAdjust="spacingAndGlyphs">222</text>
<text id="t1588" x="0" y="0" text-anchor="middle" transform="translate(233.4 244.9) skewX(-15)" textLength="29.2" lengthAdjust="spacingAndGlyphs">15,88</text>
<text id="t380" x="0" y="0" text-anchor="middle" transform="translate(283 428.3) skewX(-15)" textLength="23.2" lengthAdjust="spacingAndGlyphs">380</text>
<text id="t440" x="0" y="0" text-anchor="middle" transform="translate(270.8 453.8) skewX(-15)" textLength="24.8" lengthAdjust="spacingAndGlyphs">440</text>
<text id="t4otv" x="0" y="0" text-anchor="middle" transform="translate(436.1 356) skewX(-15)" textLength="71.4" lengthAdjust="spacingAndGlyphs">4 отв. Φ27</text>
<text id="t45" x="0" y="0" text-anchor="middle" transform="translate(417.4 395.4) rotate(-90) skewX(-15)" textLength="15.2" lengthAdjust="spacingAndGlyphs">45</text>
<text id="t463" x="0" y="0" text-anchor="middle" transform="translate(729.1 25.1) skewX(-15)" textLength="23.4" lengthAdjust="spacingAndGlyphs">463</text>
<text id="t312" x="0" y="0" text-anchor="middle" transform="translate(779.1 47.8) skewX(-15)" textLength="20.6" lengthAdjust="spacingAndGlyphs">312</text>
<text id="t254" x="0" y="0" text-anchor="middle" transform="translate(678.7 74.1) skewX(-15)" textLength="21.8" lengthAdjust="spacingAndGlyphs">254</text>
<text id="t95" x="0" y="0" text-anchor="middle" transform="translate(651.2 135.2) skewX(-15)" textLength="17.2" lengthAdjust="spacingAndGlyphs">9,5</text>
<text id="t139" x="0" y="0" text-anchor="middle" transform="translate(838.4 240.6) skewX(-15)" textLength="18" lengthAdjust="spacingAndGlyphs">139</text>
<text id="tphi69" x="0" y="0" text-anchor="middle" transform="translate(901.2 276.4) rotate(-90) skewX(-15)" textLength="44.4" lengthAdjust="spacingAndGlyphs">Φ69,83</text>
<text id="t545" x="0" y="0" text-anchor="middle" transform="translate(928.8 254.7) rotate(-90) skewX(-15)" textLength="23.4" lengthAdjust="spacingAndGlyphs">545</text>
<text id="t308" x="0" y="0" text-anchor="middle" transform="translate(693.5 428) skewX(-15)" textLength="23" lengthAdjust="spacingAndGlyphs">308</text>
<text id="t360" x="0" y="0" text-anchor="middle" transform="translate(680.1 453.5) skewX(-15)" textLength="24.2" lengthAdjust="spacingAndGlyphs">360</text>
</g>
</svg>
</body></html>
